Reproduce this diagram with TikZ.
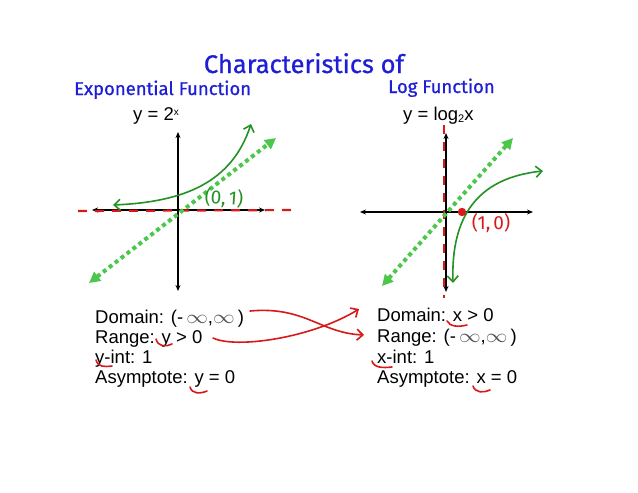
\documentclass[tikz,border=0pt]{standalone}
\usepackage{fontspec}
\setmainfont{Liberation Sans}
\newfontfamily\titlefont[FakeBold=0.7]{Fira Sans}
\newfontfamily\handfont{Fira Sans}
\usetikzlibrary{arrows.meta}
\definecolor{tblue}{RGB}{30,30,215}
\definecolor{dgreen}{RGB}{35,145,35}
\definecolor{lgreen}{RGB}{75,200,75}
\definecolor{hred}{RGB}{215,25,25}
\definecolor{infgray}{RGB}{80,80,80}
\newcommand{\inff}{{\color{infgray}\scalebox{1.25}[1.1]{$\infty$}}}
\begin{document}
\begin{tikzpicture}[x=1pt,y=-1pt,
  ttl/.style={font=\titlefont\fontsize{25.5}{27}\selectfont, text=tblue, inner sep=0, anchor=base},
  sub/.style={font=\titlefont\fontsize{18.5}{20}\selectfont, text=tblue, inner sep=0, anchor=base west},
  body/.style={font=\fontsize{18.5}{20}\selectfont, anchor=base west, inner sep=0},
  eqn/.style={font=\fontsize{18.5}{20}\selectfont, anchor=base west, inner sep=0},
  axisline/.style={line width=1.3pt, {Stealth[length=6pt,width=5pt]}-{Stealth[length=6pt,width=5pt]}},
  asym/.style={hred, line width=2.2pt, dash pattern=on 9pt off 8pt},
  symline/.style={lgreen, line width=4pt, dash pattern=on 4pt off 3.5pt,
     {Triangle[length=11pt,width=11pt]}-{Triangle[length=11pt,width=11pt]}},
  fcurve/.style={dgreen, line width=1.6pt,
     {Straight Barb[length=6pt,width=11pt]}-{Straight Barb[length=6pt,width=11pt]}},
  penline/.style={hred, line width=1.6pt, line cap=round},
  crossarrow/.style={hred, line width=1.6pt, line cap=round, -{Straight Barb[length=6pt,width=11pt]}},
  hand/.style={font=\handfont\fontsize{19}{20}\selectfont, inner sep=0},
  ]
\useasboundingbox (0,0) rectangle (638,493);
\fill[white] (0,0) rectangle (638,493);

% titles
\node[ttl] (title) at (304,73) {Characteristics of};
\node[sub] (expt) at (74,95) {Exponential Function};
\node[sub] (logt) at (388,93) {Log Function};
\node[eqn] (expeq) at (133,120) {y = 2\raisebox{5pt}{\fontsize{10}{11}\selectfont x}};
\node[eqn] (logeq) at (403,120) {y = log\raisebox{-2pt}{\fontsize{11}{12}\selectfont 2}x};

% ---------- left graph ----------
\coordinate (lxl) at (92,210);
\coordinate (lxr) at (265,210);
\coordinate (lyt) at (178,132);
\coordinate (lyb) at (178,291);
\draw[axisline] (lxl) -- (lxr);
\draw[axisline] (lyt) -- (lyb);
\coordinate (lal) at (78,211);
\coordinate (lar) at (298,210);
\draw[asym] (lal) -- (lar);
\coordinate (lsa) at (89,283);
\coordinate (lsb) at (276,138);
\draw[symline] (lsa) -- (lsb);
\coordinate (lca) at (113,205);
\coordinate (lcb) at (251,124);
\draw[fcurve] (lca) .. controls (185,202) and (232,182) .. (lcb);
\node[hand, text=dgreen, rotate=-4] (lab01) at (224,198) {(0,\,1)};

% ---------- right graph ----------
\coordinate (rxl) at (360,212);
\coordinate (rxr) at (533,212);
\coordinate (ryt) at (446,133);
\coordinate (ryb) at (446,292);
\draw[axisline] (rxl) -- (rxr);
\draw[axisline] (ryt) -- (ryb);
\coordinate (rat) at (444,125);
\coordinate (rab) at (444,298);
\draw[asym] (rat) -- (rab);
\coordinate (rsa) at (382,286);
\coordinate (rsb) at (513,138);
\draw[symline] (rsa) -- (rsb);
\coordinate (rca) at (453,283);
\coordinate (rcb) at (543,171);
\draw[fcurve] (rca) .. controls (451,218) and (476,178) .. (rcb);
\fill[hred] (462,212) circle (4.2pt);
\node[hand, text=hred] (lab10) at (491,223) {(1,\,0)};

% ---------- text blocks ----------
\node[body] (ldom) at (95,323) {Domain: (-\,\inff,\inff\,)};
\node[body] (lran) at (95,343) {Range: y > 0};
\node[body] (lint) at (95,363) {y-int: 1};
\node[body] (lasy) at (95,383) {Asymptote: y = 0};

\node[body] (rdom) at (377,321) {Domain: x > 0};
\node[body] (rran) at (377,342.5) {Range: (-\,\inff,\inff\,)};
\node[body] (rint) at (377,363) {x-int: 1};
\node[body] (rasy) at (377,383) {Asymptote: x = 0};

% crossing arrows
\coordinate (ca1) at (250,311);
\coordinate (ce1) at (364,335);
\coordinate (ca2) at (213,338);
\coordinate (ce2) at (359,309);
\draw[crossarrow] (ca1) .. controls (305,306) and (320,333) .. (ce1);
\draw[crossarrow] (ca2) .. controls (236,349) and (312,338) .. (ce2);

% underline marks
\draw[penline] (156,339) .. controls (158,347) and (166,347) .. (172,344);
\draw[penline] (96,360) .. controls (98,367) and (104,367) .. (112,366);
\draw[penline] (190,387) .. controls (192,394) and (200,394) .. (207,391);
\draw[penline] (447,321) .. controls (450,327) and (459,327) .. (467,325);
\draw[penline] (372,361) .. controls (374,368) and (383,368) .. (392,367);
\draw[penline] (473,386) .. controls (475,393) and (484,393) .. (490,390);
\end{tikzpicture}
\end{document}
